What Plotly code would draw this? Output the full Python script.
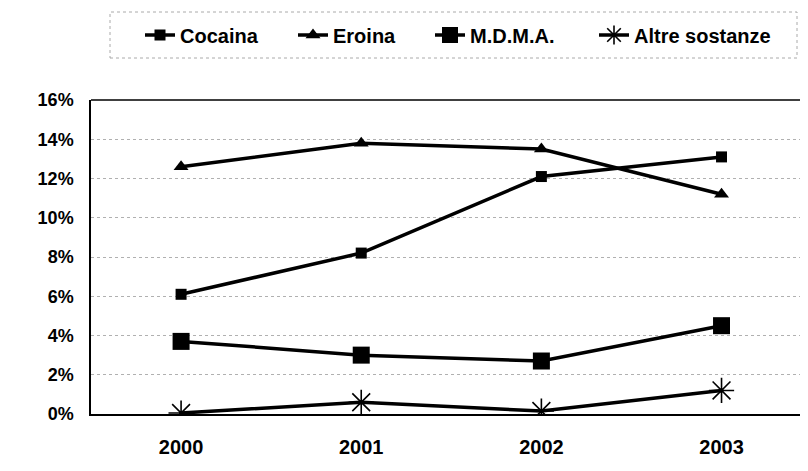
import plotly.graph_objects as go

years = ["2000", "2001", "2002", "2003"]
cocaina = [6.1, 8.2, 12.1, 13.1]
eroina = [12.6, 13.8, 13.5, 11.2]
mdma = [3.7, 3.0, 2.7, 4.5]
altre = [0.05, 0.6, 0.15, 1.2]
y_ticks = [0, 2, 4, 6, 8, 10, 12, 14, 16]
y_tick_labels = [f"{v}%" for v in y_ticks]

# page has an 8px body margin, so the figure is sized to the visible area
W, H = 800, 463
ML, MT, MB = 83, 92, 57
fig = go.Figure()
series = [
    ("Cocaina", cocaina, dict(symbol="square", size=11, color="black"), "legend", 132),
    ("Eroina", eroina, dict(symbol="triangle-up", size=13, color="black"), "legend2", 285),
    ("M.D.M.A.", mdma, dict(symbol="square", size=17, color="black"), "legend3", 422),
    ("Altre sostanze", altre, dict(symbol="asterisk-open", size=21, color="black",
                                   line=dict(width=1.6, color="black")), "legend4", 586),
]
legend_font = dict(family="Arial, Liberation Sans, sans-serif", size=20, color="black", weight="bold")
legends = {}
for name, vals, mk, lg, lx in series:
    fig.add_trace(go.Scatter(x=years, y=vals, name=name, mode="lines+markers",
                             line=dict(color="black", width=3.5), marker=mk, legend=lg))
    legends[lg] = dict(xref="container", yref="container", x=lx / W, xanchor="left",
                       y=1 - 27 / H, yanchor="middle", bgcolor="rgba(0,0,0,0)",
                       borderwidth=0, font=legend_font, orientation="h")

font = dict(family="Arial, Liberation Sans, sans-serif", size=18, color="black", weight="bold")
fig.update_layout(
    width=W, height=H,
    margin=dict(l=ML, r=0, t=MT, b=MB, autoexpand=False),
    paper_bgcolor="white", plot_bgcolor="white",
    font=font,
    showlegend=True,
    xaxis=dict(type="category", range=[-0.5, 3.48], showgrid=False, showline=True,
               linecolor="black", linewidth=1.5, ticks="", tickfont=dict(size=20, weight="bold"),
               ticklabelstandoff=14, automargin=False, fixedrange=True),
    yaxis=dict(range=[0, 16], tickvals=y_ticks, ticktext=y_tick_labels, showgrid=True,
               gridcolor="#b0b0b0", griddash="dot", gridwidth=1, showline=True, linecolor="black",
               linewidth=1.5, zeroline=False, tickfont=dict(size=18, weight="bold"),
               ticklabelstandoff=12, automargin=False, fixedrange=True),
    **legends,
)
fig.add_shape(type="line", xref="paper", yref="paper", x0=0, x1=1, y0=1, y1=1,
              line=dict(color="black", width=1.5))
# legend frame
pw, ph = W - ML, H - MT - MB
fig.add_shape(type="rect", xref="paper", yref="paper",
              x0=(102 - ML) / pw, x1=(789 - ML) / pw,
              y0=(H - MB - 50) / ph, y1=(H - MB - 4) / ph,
              line=dict(color="#aaaaaa", width=1, dash="dot"))
fig.write_html("out.html")
